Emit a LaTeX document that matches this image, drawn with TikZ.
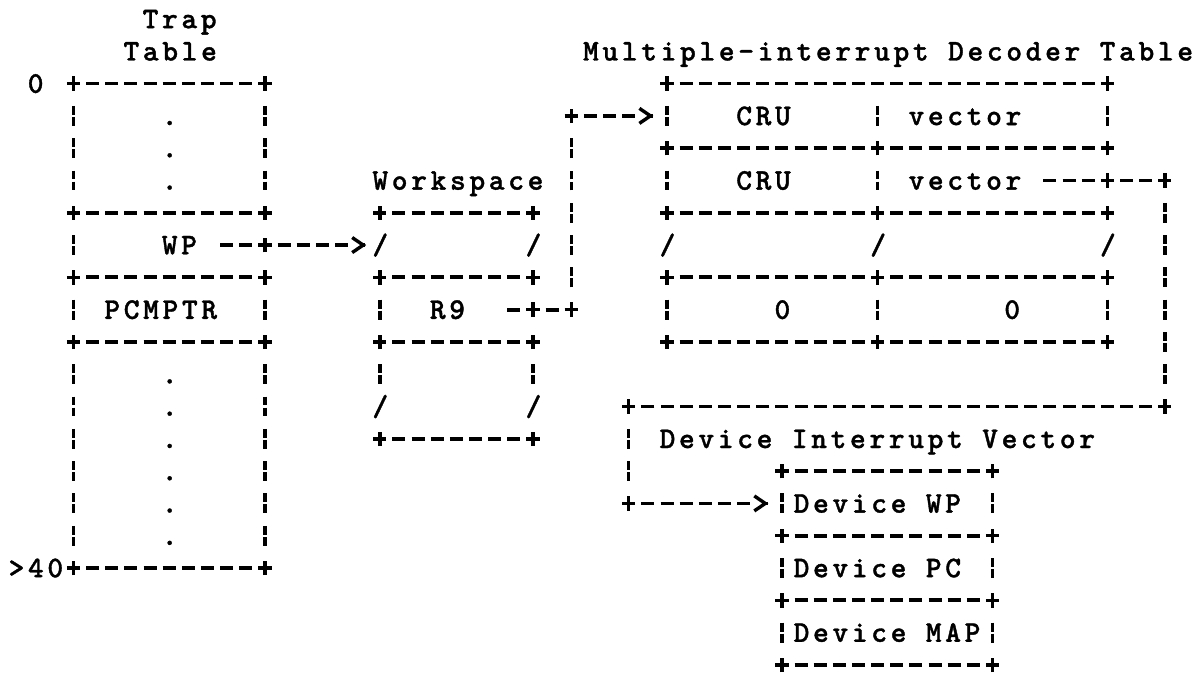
\documentclass[tikz,border=0pt]{standalone}
\usepackage{fontspec}
\newfontfamily\ttyfont[LetterSpace=12.2, FakeBold=1.2]{lmmonolt10-bold.otf}
\usetikzlibrary{arrows.meta,calc}

\begin{document}
\begin{tikzpicture}[
    x=9.575pt, y=-16.15pt,
    cell/.style={anchor=base west, inner sep=0pt, xshift=-3.885pt, yshift=-4.6pt,
        font=\ttyfont\fontsize{15pt}{16pt}\selectfont},
    hdash/.style={line width=1.9pt, dash pattern=on 0pt off 1.5375pt on 6.5pt off 1.5375pt},
    vdash/.style={line width=1.7pt, dash pattern=on 0pt off 3.1pt on 4.45pt off 1.05pt on 4.45pt off 3.1pt},
    joint/.pic={\draw[line width=1.75pt] (-3.3pt,0) -- (3.3pt,0) (0,-3.6pt) -- (0,3.6pt);},
    chev/.style={line width=1.7pt, -{Straight Barb[length=5.5pt,width=7.5pt]}},
]
\useasboundingbox (-0.8355,-0.588) rectangle (61.888,20.31);

% === Trap table ===
\node[cell] (trap1) at (7,0) {Trap};
\node[cell] (trap2) at (6,1) {Table};
\node[cell] (idx0) at (1,2) {0};
\node[cell] (idx40) at (0,17) {>40};
\foreach \r in {2,6,8,10,17} {
    \draw[hdash] (3.5,\r) -- (12.5,\r);
    \pic at (3,\r) {joint};
    \pic at (13,\r) {joint};
}
\foreach \a/\b in {2.5/5.5, 6.5/7.5, 8.5/9.5, 10.5/16.5}
    \draw[vdash] (3,\a) -- (3,\b);
\foreach \a/\b in {2.5/5.5, 8.5/9.5, 10.5/16.5}
    \draw[vdash] (13,\a) -- (13,\b);
\foreach \r in {3,4,5,11,12,13,14,15,16}
    \node[cell] (dot\r) at (8,\r) {.};
\node[cell] (wp) at (8,7) {WP};
\node[cell] (pcmptr) at (5,9) {PCMPTR};

% === Workspace ===
\node[cell] (wstitle) at (19,5) {Workspace};
\foreach \r in {6,8,10,13} {
    \draw[hdash] (19.5,\r) -- (26.5,\r);
    \pic at (19,\r) {joint};
    \pic at (27,\r) {joint};
}
\draw[vdash] (19,8.5) -- (19,9.5) (19,10.5) -- (19,11.5) (27,10.5) -- (27,11.5);
\foreach \c/\r [count=\i] in {19/7, 27/7, 19/12, 27/12}
    \node[cell] (wsgap\i) at (\c,\r) {/};
\node[cell] (r9) at (22,9) {R9};

% === Multiple-interrupt decoder table ===
\node[cell] (mdtitle) at (30,1) {Multiple-interrupt Decoder Table};
\draw[hdash] (34.5,2) -- (56.5,2);
\pic at (34,2) {joint};
\pic at (57,2) {joint};
\foreach \r in {4,6,8,10} {
    \draw[hdash] (34.5,\r) -- (44.5,\r) (45.5,\r) -- (56.5,\r);
    \foreach \c in {34,45,57}
        \pic at (\c,\r) {joint};
}
\foreach \c in {34,45,57}
    \draw[vdash] (\c,2.5) -- (\c,3.5) (\c,8.5) -- (\c,9.5);
\foreach \c in {34,45}
    \draw[vdash] (\c,4.5) -- (\c,5.5);
\foreach \c [count=\i] in {34,45,57}
    \node[cell] (mdgap\i) at (\c,7) {/};
\node[cell] (cru1) at (38,3) {CRU};
\node[cell] (vec1) at (47,3) {vector};
\node[cell] (cru2) at (38,5) {CRU};
\node[cell] (vec2) at (47,5) {vector};
\node[cell] (zero1) at (40,9) {0};
\node[cell] (zero2) at (52,9) {0};

% === Device interrupt vector ===
\node[cell] (divtitle) at (34,13) {Device Interrupt Vector};
\foreach \r in {14,16,18,20} {
    \draw[hdash] (40.5,\r) -- (50.5,\r);
    \pic at (40,\r) {joint};
    \pic at (51,\r) {joint};
}
\foreach \c in {40,51}
    \draw[vdash] (\c,14.5) -- (\c,15.5) (\c,16.5) -- (\c,17.5) (\c,18.5) -- (\c,19.5);
\node[cell] (devwp) at (41,15) {Device WP};
\node[cell] (devpc) at (41,17) {Device PC};
\node[cell] (devmap) at (41,19) {Device MAP};

% === Links ===
% WP -> workspace
\coordinate (wptap) at (13,7);
\coordinate (wshead) at (18,7);
\pic at (wptap) {joint};
\draw[hdash] ($(wptap)+(-2.5,0)$) -- ($(wptap)+(-0.5,0)$)
             ($(wptap)+(0.5,0)$) -- ($(wshead)+(-0.5,0)$);
\draw[chev] ($(wshead)+(0.25,0)$) -- ($(wshead)+(0.29,0)$);

% R9 -> decoder table
\coordinate (r9tap) at (27,9);
\coordinate (r9bend) at (29,9);
\coordinate (mdbend) at (29,3);
\coordinate (mdhead) at (33,3);
\draw[hdash] ($(r9tap)+(-1.5,0)$) -- ($(r9tap)+(-0.5,0)$)
             ($(r9tap)+(0.5,0)$) -- ($(r9bend)+(-0.5,0)$);
\pic at (r9tap) {joint};
\pic at (r9bend) {joint};
\draw[vdash] ($(r9bend)+(0,-0.5)$) -- ($(mdbend)+(0,0.5)$);
\pic at (mdbend) {joint};
\draw[hdash] ($(mdbend)+(0.5,0)$) -- ($(mdhead)+(-0.5,0)$);
\draw[chev] ($(mdhead)+(0.25,0)$) -- ($(mdhead)+(0.29,0)$);

% vector -> device interrupt vector
\coordinate (vectap) at (57,5);
\coordinate (vecbend) at (60,5);
\coordinate (divbend) at (60,12);
\coordinate (divcorner) at (32,12);
\coordinate (divlow) at (32,15);
\coordinate (divhead) at (39,15);
\draw[hdash] ($(vectap)+(-3.5,0)$) -- ($(vectap)+(-0.5,0)$)
             ($(vectap)+(0.5,0)$) -- ($(vecbend)+(-0.5,0)$);
\draw[vdash] ($(vecbend)+(0,0.5)$) -- ($(divbend)+(0,-0.5)$);
\draw[hdash] ($(divbend)+(-0.5,0)$) -- ($(divcorner)+(0.5,0)$);
\draw[vdash] ($(divcorner)+(0,0.5)$) -- ($(divlow)+(0,-0.5)$);
\draw[hdash] ($(divlow)+(0.5,0)$) -- ($(divhead)+(-0.5,0)$);
\foreach \p in {vectap,vecbend,divbend,divcorner,divlow}
    \pic at (\p) {joint};
\draw[chev] ($(divhead)+(0.25,0)$) -- ($(divhead)+(0.29,0)$);

\end{tikzpicture}
\end{document}
